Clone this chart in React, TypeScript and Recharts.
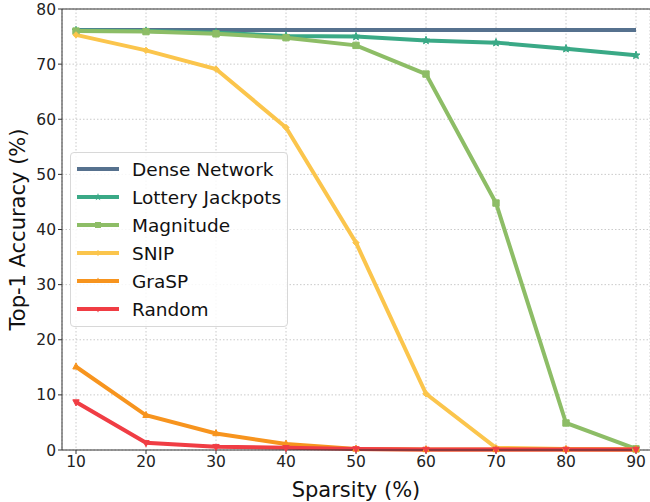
import React from 'react';
import { LineChart, Line, XAxis, YAxis, CartesianGrid, ReferenceLine, Label } from 'recharts';

const sparsity = [10, 20, 30, 40, 50, 60, 70, 80, 90];
const dense = [76.2, 76.2, 76.2, 76.2, 76.2, 76.2, 76.2, 76.2, 76.2];
const lottery = [76.1, 76.0, 75.7, 75.1, 75.0, 74.3, 73.9, 72.8, 71.6];
const magnitude = [76.0, 75.9, 75.5, 74.8, 73.4, 68.2, 44.8, 4.9, 0.2];
const snip = [75.3, 72.5, 69.1, 58.5, 37.6, 10.2, 0.4, 0.2, 0.1];
const grasp = [15.1, 6.3, 3.0, 1.1, 0.2, 0.1, 0.1, 0.1, 0.1];
const random = [8.7, 1.3, 0.6, 0.4, 0.2, 0.1, 0.1, 0.1, 0.1];
const yTicks = [0, 10, 20, 30, 40, 50, 60, 70, 80];

const data = sparsity.map((s, i) => ({
  s,
  dense: dense[i],
  lottery: lottery[i],
  magnitude: magnitude[i],
  snip: snip[i],
  grasp: grasp[i],
  random: random[i],
}));

const font = '"DejaVu Sans", sans-serif';

type Marker = 'none' | 'star' | 'square' | 'diamond' | 'triUp' | 'triDown';

const series: { key: string; name: string; color: string; marker: Marker }[] = [
  { key: 'dense', name: 'Dense Network', color: '#56718e', marker: 'none' },
  { key: 'lottery', name: 'Lottery Jackpots', color: '#3aa986', marker: 'star' },
  { key: 'magnitude', name: 'Magnitude', color: '#8dbd66', marker: 'square' },
  { key: 'snip', name: 'SNIP', color: '#fbc54c', marker: 'diamond' },
  { key: 'grasp', name: 'GraSP', color: '#f7941e', marker: 'triUp' },
  { key: 'random', name: 'Random', color: '#f03d44', marker: 'triDown' },
];

function markerPath(m: Marker, cx: number, cy: number, r: number) {
  switch (m) {
    case 'square':
      return `M${cx - r},${cy - r}h${2 * r}v${2 * r}h${-2 * r}Z`;
    case 'diamond':
      return `M${cx},${cy - r}L${cx + r},${cy}L${cx},${cy + r}L${cx - r},${cy}Z`;
    case 'triUp':
      return `M${cx},${cy - r * 1.2}L${cx + r},${cy + r * 0.7}L${cx - r},${cy + r * 0.7}Z`;
    case 'triDown':
      return `M${cx},${cy + r * 1.2}L${cx + r},${cy - r * 0.7}L${cx - r},${cy - r * 0.7}Z`;
    case 'star': {
      let d = '';
      for (let i = 0; i < 10; i++) {
        const a = -Math.PI / 2 + (i * Math.PI) / 5;
        const rr = i % 2 === 0 ? r * 1.3 : r * 0.55;
        d += `${i === 0 ? 'M' : 'L'}${cx + rr * Math.cos(a)},${cy + rr * Math.sin(a)}`;
      }
      return d + 'Z';
    }
    default:
      return '';
  }
}

const makeDot = (m: Marker, color: string) => (props: any) => {
  const { cx, cy, index } = props;
  if (m === 'none' || cx == null) return <g key={index} />;
  return <path key={index} d={markerPath(m, cx, cy, 3.2)} fill={color} stroke={color} strokeWidth={1} />;
};

const LegendBox = () => (
  <div
    style={{
      position: 'absolute',
      left: 70,
      top: 152,
      border: '1px solid #d8d8d8',
      borderRadius: 4,
      background: 'rgba(255,255,255,0.85)',
      padding: '2px 6px 3px 5px',
      fontFamily: font,
      fontSize: 18.5,
      color: '#111',
    }}
  >
    {series.map((s) => (
      <div key={s.key} style={{ display: 'flex', alignItems: 'center', height: 28 }}>
        <svg width={44} height={12} style={{ marginRight: 12 }}>
          <line x1={1} y1={6} x2={43} y2={6} stroke={s.color} strokeWidth={4} />
          {s.marker !== 'none' && <path d={markerPath(s.marker, 22, 6, 3)} fill={s.color} />}
        </svg>
        <span>{s.name}</span>
      </div>
    ))}
  </div>
);

export default function App() {
  return (
    <div style={{ position: 'absolute', left: 0, top: 0, width: 650, height: 502 }}>
      <LineChart width={650} height={502} data={data} margin={{ top: 9, right: 0, left: 0, bottom: 0 }}>
        <CartesianGrid stroke="#c4c4c4" strokeDasharray="1.5 2" strokeWidth={0.9} />
        <XAxis
          dataKey="s"
          type="number"
          domain={[8, 92]}
          ticks={sparsity}
          height={52}
          stroke="#333"
          tickSize={4}
          tick={{ fill: '#222', fontSize: 15.5, fontFamily: font }}
        >
          <Label value="Sparsity (%)" position="insideBottom" offset={5} style={{ fill: '#111', fontSize: 21, fontFamily: font }} />
        </XAxis>
        <YAxis
          type="number"
          domain={[0, 80]}
          ticks={yTicks}
          width={62}
          stroke="#333"
          tickSize={4}
          tick={{ fill: '#222', fontSize: 15.5, fontFamily: font }}
        >
          <Label
            value="Top-1 Accuracy (%)"
            angle={-90}
            position="insideLeft"
            offset={18}
            style={{ fill: '#111', fontSize: 21, fontFamily: font, textAnchor: 'middle' }}
          />
        </YAxis>
        <ReferenceLine y={80} stroke="#333" strokeWidth={1} />
        {series.map((s) => (
          <Line
            key={s.key}
            dataKey={s.key}
            name={s.name}
            stroke={s.color}
            strokeWidth={4}
            dot={makeDot(s.marker, s.color)}
            activeDot={false}
            isAnimationActive={false}
          />
        ))}
      </LineChart>
      <LegendBox />
    </div>
  );
}
